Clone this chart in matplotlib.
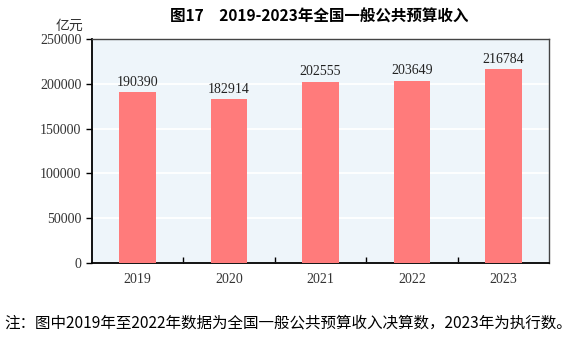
import matplotlib
matplotlib.use('Agg')
import matplotlib.pyplot as plt

years = ['2019', '2020', '2021', '2022', '2023']
revenue = [190390, 182914, 202555, 203649, 216784]
yticks = [0, 50000, 100000, 150000, 200000, 250000]

title = '图17　2019-2023年全国一般公共预算收入'
unit = '亿元'
note = '注：图中2019年至2022年数据为全国一般公共预算收入决算数，2023年为执行数。'

cjk = ['Noto Sans CJK SC', 'DejaVu Sans']
serif = 'Liberation Serif'

fig = plt.figure(figsize=(5.78, 3.4), dpi=100)
ax = fig.add_axes([0.159, 0.2265, 0.791, 0.6585])
ax.set_facecolor('#eef5fa')

x = range(len(years))
ax.bar(x, revenue, width=0.4, color='#ff7b7b', zorder=3)
for xi, v in zip(x, revenue):
    ax.text(xi, v + 3500, str(v), ha='center', va='bottom', fontsize=10,
            family=serif, color='#222222', zorder=4)

ax.set_xlim(-0.5, len(years) - 0.5)
ax.set_ylim(0, 250000)
ax.set_yticks(yticks)
ax.set_yticklabels([str(t) for t in yticks], family=serif, fontsize=10)
ax.yaxis.grid(True, color='white', linewidth=1.3, zorder=0)
ax.tick_params(axis='y', direction='out', length=4, width=1, colors='black', labelcolor='#333333')

# category labels in the middle, tick marks on the boundaries
ax.set_xticks(list(x))
ax.set_xticklabels(years, family=serif, fontsize=10, color='#333333')
ax.tick_params(axis='x', length=0, pad=7)
ax.set_xticks([i + 0.5 for i in range(len(years) - 1)], minor=True)
ax.tick_params(axis='x', which='minor', direction='in', length=4, width=1, color='black')

for side in ['left', 'bottom']:
    ax.spines[side].set_linewidth(1.3)
    ax.spines[side].set_color('black')
for side in ['top', 'right']:
    ax.spines[side].set_linewidth(1.0)
    ax.spines[side].set_color('#444444')

fig.text(0.553, 0.952, title, ha='center', va='center', fontsize=11.2,
         fontweight='bold', family=cjk)
fig.text(0.121, 0.923, unit, ha='center', va='center', fontsize=10,
         family=cjk, color='#333333')
fig.text(0.008, 0.05, note, ha='left', va='center', fontsize=11.2, family=cjk)

fig.savefig('out.png', dpi=100)
